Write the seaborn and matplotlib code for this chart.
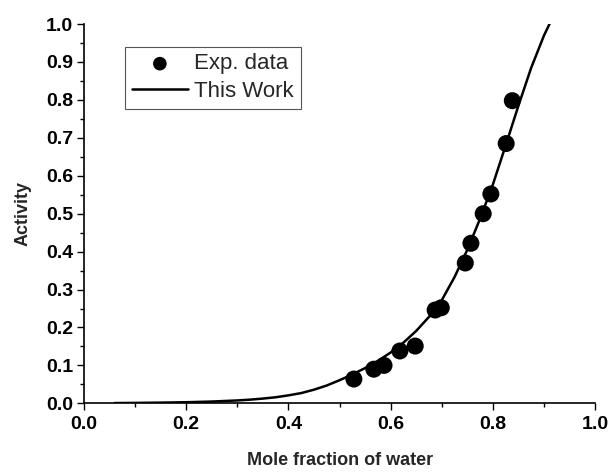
import numpy as np
import pandas as pd
import matplotlib
matplotlib.use("Agg")
import matplotlib.pyplot as plt
from matplotlib.ticker import MultipleLocator
import seaborn as sns

# Experimental data
exp_x = [0.528, 0.567, 0.587, 0.618, 0.648, 0.687, 0.699, 0.746, 0.757, 0.781, 0.796, 0.826, 0.838]
exp_y = [0.064, 0.090, 0.100, 0.138, 0.151, 0.246, 0.252, 0.370, 0.422, 0.500, 0.552, 0.685, 0.798]

# Model curve ("This Work")
model_x = [0.06, 0.10, 0.15, 0.20, 0.25, 0.30, 0.325, 0.35, 0.375, 0.40, 0.425, 0.45, 0.475, 0.50,
           0.525, 0.55, 0.575, 0.60, 0.625, 0.65, 0.675, 0.70, 0.725, 0.75, 0.775,
           0.80, 0.825, 0.85, 0.875, 0.90, 0.925]
model_y = [0.0007, 0.0011, 0.0018, 0.0029, 0.0047, 0.0076, 0.0097, 0.0125, 0.016, 0.021, 0.027,
           0.036, 0.047, 0.061, 0.076, 0.093, 0.112, 0.134, 0.160, 0.191, 0.228, 0.272, 0.333,
           0.405, 0.487, 0.577, 0.680, 0.785, 0.885, 0.970, 1.040]

xticks = [0.0, 0.2, 0.4, 0.6, 0.8, 1.0]
yticks = [0.0, 0.1, 0.2, 0.3, 0.4, 0.5, 0.6, 0.7, 0.8, 0.9, 1.0]

sns.set_style("ticks")
plt.rcParams['font.family'] = ['Liberation Sans', 'DejaVu Sans']

fig = plt.figure(figsize=(6.11, 4.72), dpi=100)
ax = fig.add_axes([0.1375, 0.1455, 0.8365, 0.8035])

df_model = pd.DataFrame({"x": model_x, "y": model_y})
df_exp = pd.DataFrame({"x": exp_x, "y": exp_y})

sns.lineplot(data=df_model, x="x", y="y", ax=ax, color="black", linewidth=1.8,
             label="This Work", sort=False)
sns.scatterplot(data=df_exp, x="x", y="y", ax=ax, color="black", s=150,
                edgecolor="none", label="Exp. data", zorder=3)

ax.set_xlim(0, 1.0)
ax.set_ylim(0, 1.0)
ax.set_xticks(xticks)
ax.set_yticks(yticks)
ax.set_xticklabels([f"{t:.1f}" for t in xticks], fontweight="bold", fontsize=14)
ax.set_yticklabels([f"{t:.1f}" for t in yticks], fontweight="bold", fontsize=14)
ax.xaxis.set_minor_locator(MultipleLocator(0.1))
ax.yaxis.set_minor_locator(MultipleLocator(0.05))
ax.tick_params(which="major", direction="out", length=5, width=1, colors="black")
ax.tick_params(which="minor", direction="out", length=3, width=1, colors="black")
ax.tick_params(axis="x", pad=4)
ax.tick_params(axis="y", pad=3)

sns.despine(ax=ax)
for s in ["left", "bottom"]:
    ax.spines[s].set_linewidth(1.2)
    ax.spines[s].set_color("black")

ax.set_xlabel("Mole fraction of water", fontweight="bold", fontsize=13, labelpad=14)
ax.set_ylabel("Activity", fontweight="bold", fontsize=13, labelpad=10)

handles, labels = ax.get_legend_handles_labels()
order = [labels.index("Exp. data"), labels.index("This Work")]
leg = ax.legend([handles[i] for i in order], [labels[i] for i in order],
                loc="upper left", bbox_to_anchor=(0.081, 0.94), fontsize=16,
                frameon=True, fancybox=False, framealpha=1, edgecolor="#555555",
                handlelength=2.5, handletextpad=0.3, borderpad=0.3,
                labelspacing=0.3, borderaxespad=0, markerscale=0.8)
leg.get_frame().set_linewidth(0.8)

fig.savefig("out.png", dpi=100)
